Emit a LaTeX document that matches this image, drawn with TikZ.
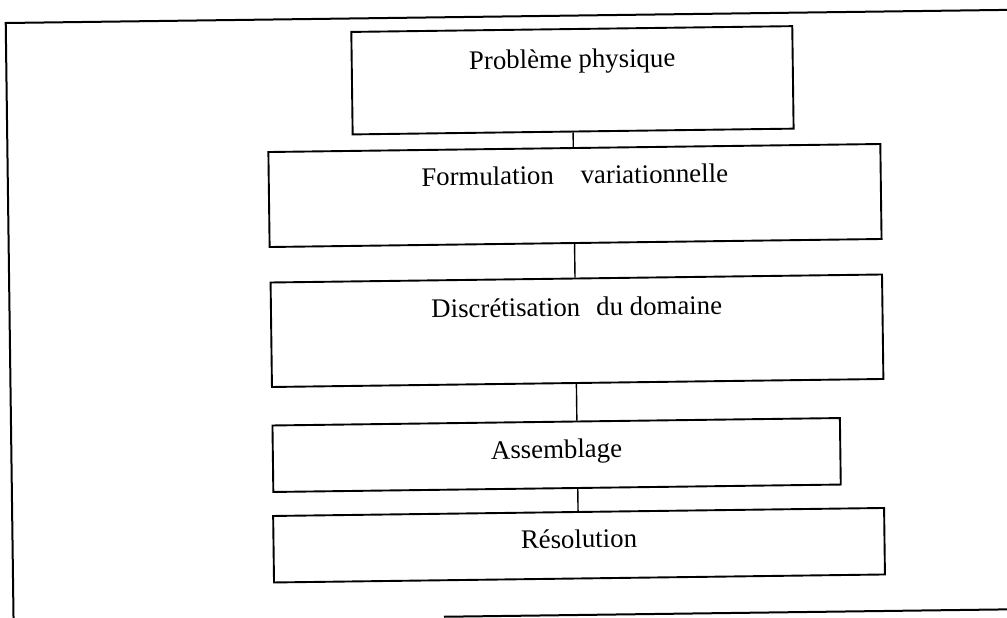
\documentclass[tikz,border=0pt]{standalone}
\usepackage{fontspec}
\setmainfont{Liberation Serif}
\begin{document}
\begin{tikzpicture}[x=1pt,y=-1pt,
  stepbox/.style={draw, line width=1.9pt, rectangle, anchor=north west,
    inner xsep=0pt, inner ysep=0pt, transform shape,
    font=\fontsize{26.8}{32}\selectfont},
  link/.style={line width=1.4pt},
  frameline/.style={line width=2pt}]
  % page area
  \useasboundingbox (0,0) rectangle (1007,618);
  \clip (0,0) rectangle (1007,618);
  % the sheet is scanned slightly askew
  \begin{scope}[rotate around={0.75:(503.5,309)}]
    % outer frame
    \coordinate (tl) at (9.5,16.5);
    \coordinate (tr) at (1030,16.5);
    \coordinate (bl) at (9.5,650);
    \coordinate (bs) at (440,616);
    \coordinate (be) at (1030,616);
    \draw[frameline] (tr) -- (tl) -- (bl);
    \draw[frameline] (bs) -- (be);
    % steps
    \node[stepbox, minimum width=441pt, text height=39pt, text depth=63.5pt]
      (b1) at (354,29) {Problème physique};
    \node[stepbox, minimum width=612pt, text height=36pt, text depth=59pt]
      (b2) at (269.5,148) {Formulation\hspace{1em}variationnelle};
    \node[stepbox, minimum width=611.5pt, text height=37.5pt, text depth=67pt]
      (b3) at (270,278.5) {Discrétisation\hspace{0.6em}du domaine};
    \node[stepbox, minimum width=567.5pt, text height=36.5pt, text depth=30pt]
      (b4) at (270,421.5) {Assemblage};
    \node[stepbox, minimum width=611pt, text height=36pt, text depth=30.5pt]
      (b5) at (269.5,512) {Résolution};
    % connectors
    \draw[link] (b1.south) -- (b1.south |- b2.north);
    \draw[link] (b1.south |- b2.south) -- (b1.south |- b3.north);
    \draw[link] (b1.south |- b3.south) -- (b1.south |- b4.north);
    \draw[link] (b1.south |- b4.south) -- (b1.south |- b5.north);
  \end{scope}
\end{tikzpicture}
\end{document}
